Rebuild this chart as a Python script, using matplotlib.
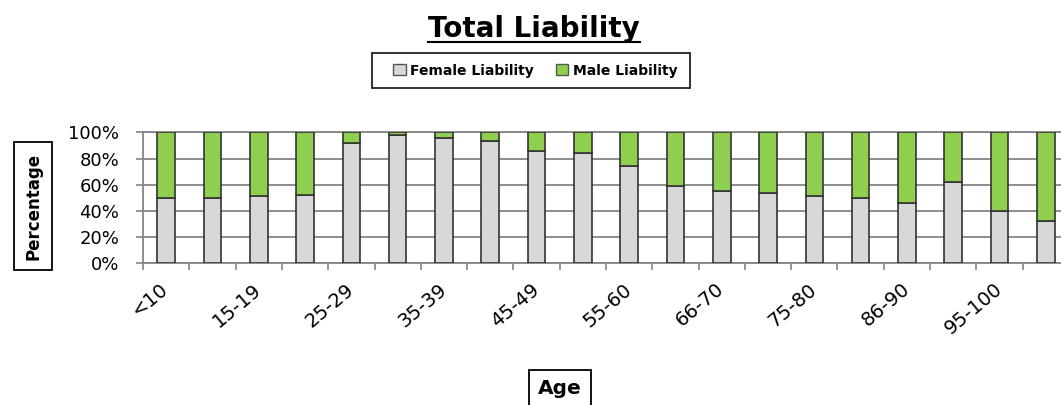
import matplotlib
matplotlib.use("Agg")
import matplotlib.pyplot as plt
from matplotlib.patches import Patch, Rectangle
from matplotlib.lines import Line2D
import numpy as np

# Share of total liability per age band (percent)
age_groups = ["<10", "10-14", "15-19", "20-24", "25-29", "30-34", "35-39", "40-44",
              "45-49", "50-54", "55-60", "61-65", "66-70", "71-74", "75-80", "81-85",
              "86-90", "91-94", "95-100", ">100"]
female_pct = [50, 50, 51.5, 52.5, 91.5, 98, 95.5, 93, 86, 84,
              74, 59, 55, 54, 51.5, 50, 46, 62, 40, 32.5]
male_pct = [50, 50, 48.5, 47.5, 8.5, 2, 4.5, 7, 14, 16,
            26, 41, 45, 46, 48.5, 50, 54, 38, 60, 67.5]
y_ticks = [0, 20, 40, 60, 80, 100]
series_names = ["Female Liability", "Male Liability"]
chart_title = "Total Liability"
x_title = "Age"
y_title = "Percentage"

W, H = 1061, 405
fig = plt.figure(figsize=(W / 100, H / 100), dpi=100)


def fx(px):
    return px / W


def fy(py):
    return 1 - py / H


female_color = "#D8D8D8"
male_color = "#8FCF4F"
edge_color = "#333333"
grid_color = "#858585"

ax = fig.add_axes([fx(143), fy(263.3), 926 / W, 131 / H])
x = np.arange(len(age_groups))
bar_w = 0.38
ax.bar(x, female_pct, bar_w, color=female_color, edgecolor=edge_color,
       linewidth=1.2, zorder=3)
ax.bar(x, male_pct, bar_w, bottom=female_pct, color=male_color,
       edgecolor=edge_color, linewidth=1.2, zorder=3)

ax.set_xlim(-0.5, len(age_groups) - 0.5)
ax.set_ylim(0, 100)
ax.set_yticks(y_ticks)
ax.set_yticklabels([f"{v}%" for v in y_ticks])
ax.yaxis.grid(True, color=grid_color, linewidth=1.3, zorder=0)
ax.set_axisbelow(True)

ax.spines["right"].set_visible(False)
for side in ["left", "bottom", "top"]:
    ax.spines[side].set_color(grid_color)
    ax.spines[side].set_linewidth(1.3)

ax.tick_params(axis="y", length=5, width=1.2, color=grid_color, pad=12,
               labelsize=13)

# category boundaries carry the tick marks, every other band is labelled
ax.set_xticks(np.arange(-0.5, len(age_groups)), minor=True)
ax.set_xticks(x[::2])
ax.set_xticklabels(age_groups[::2])
ax.tick_params(axis="x", which="major", length=0, pad=17, labelsize=14)
ax.tick_params(axis="x", which="minor", length=5, width=1.2, color=grid_color)
plt.setp(ax.get_xticklabels(), rotation=40, ha="right", va="center",
         rotation_mode="anchor")

# underlined title
title = fig.text(fx(534), fy(37), chart_title, ha="center", va="baseline",
                 fontsize=20, fontweight="bold")
fig.canvas.draw()
bb = title.get_window_extent()
fig.add_artist(Line2D([bb.x0 / W, bb.x1 / W], [fy(41.7), fy(41.7)],
                      color="black", linewidth=1.5))

# legend in a plain box
handles = [Patch(facecolor=female_color, edgecolor="#555555", linewidth=1.0),
           Patch(facecolor=male_color, edgecolor="#555555", linewidth=1.0)]
fig.legend(handles, series_names, loc="center left",
           bbox_to_anchor=(fx(393), fy(70.5)), ncol=2, frameon=False,
           borderpad=0, borderaxespad=0, handlelength=0.9, handleheight=0.9,
           handletextpad=0.35, columnspacing=1.55,
           prop=dict(size=10, weight="bold"))
fig.add_artist(Rectangle((fx(372), fy(88)), (690 - 372) / W, 35 / H,
                         fill=False, edgecolor="#222222", linewidth=1.3,
                         transform=fig.transFigure))

# boxed axis titles
fig.text(fx(33), fy(206), y_title, rotation=90, ha="center", va="center",
         fontsize=12, fontweight="bold",
         bbox=dict(boxstyle="square,pad=0.6", facecolor="white",
                   edgecolor="black", linewidth=1.3))
fig.text(fx(560), fy(389), x_title, ha="center", va="center",
         fontsize=14.5, fontweight="bold",
         bbox=dict(boxstyle="square,pad=0.45", facecolor="white",
                   edgecolor="black", linewidth=1.3))

fig.savefig("out.png", dpi=100)
